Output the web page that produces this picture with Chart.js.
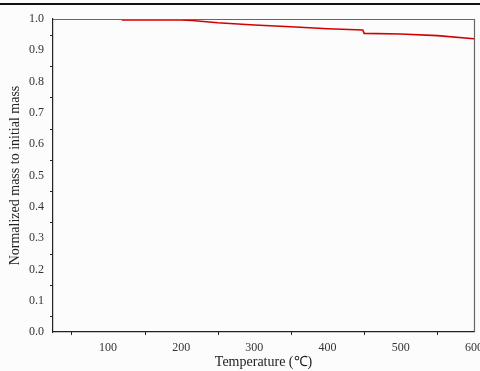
<!DOCTYPE html>
<html>
<head>
<meta charset="utf-8">
<script src="https://cdn.jsdelivr.net/npm/chart.js@4"></script>
<style>
html,body{margin:0;padding:0;background:#fcfcfc;}
#wrap{width:480px;height:371px;position:relative;}
</style>
</head>
<body>
<div id="wrap"><canvas id="c" width="480" height="371"></canvas></div>
<script>
const temperatures = [25, 118, 120, 200, 215, 250, 300, 350, 400, 448, 450, 500, 550, 600];
const normalizedMass = [1.0, 1.0, 0.997, 0.997, 0.995, 0.988, 0.981, 0.975, 0.969, 0.965, 0.954, 0.952, 0.947, 0.937];
const xTickValues = [100, 200, 300, 400, 500, 600];
const yTickValues = [0, 0.1, 0.2, 0.3, 0.4, 0.5, 0.6, 0.7, 0.8, 0.9, 1.0];
const xTitle = 'Temperature (\u2103)';
const yTitle = 'Normalized mass to initial mass';

const points = temperatures.map((t, i) => ({x: t, y: normalizedMass[i]}));

const framePlugin = {
  id: 'frame',
  beforeDraw(chart) {
    const ctx = chart.ctx;
    ctx.save();
    ctx.fillStyle = '#111';
    ctx.fillRect(0, 3, chart.width, 2);
    ctx.restore();
  },
  afterDraw(chart) {
    const ctx = chart.ctx, a = chart.chartArea;
    const xs = chart.scales.x, ys = chart.scales.y;
    ctx.save();
    ctx.strokeStyle = '#666';
    ctx.lineWidth = 1.2;
    ctx.beginPath();
    ctx.moveTo(a.left, a.top + 0.5);
    ctx.lineTo(a.right + 0.5, a.top + 0.5);
    ctx.lineTo(a.right + 0.5, a.bottom);
    ctx.stroke();
    ctx.strokeStyle = '#222';
    ctx.lineWidth = 1;
    ctx.beginPath();
    for (let v = 50; v < 600; v += 100) {
      const px = Math.round(xs.getPixelForValue(v)) + 0.5;
      ctx.moveTo(px, a.bottom);
      ctx.lineTo(px, a.bottom + 3);
    }
    for (let v = 0.05; v < 1; v += 0.1) {
      const py = Math.round(ys.getPixelForValue(v)) + 0.5;
      ctx.moveTo(a.left, py);
      ctx.lineTo(a.left - 3, py);
    }
    ctx.stroke();
    ctx.restore();
  }
};

new Chart(document.getElementById('c'), {
  type: 'line',
  data: {
    datasets: [{
      data: points,
      borderColor: '#d40000',
      borderWidth: 1.6,
      pointRadius: 0,
      tension: 0,
      fill: false
    }]
  },
  plugins: [framePlugin],
  options: {
    responsive: false,
    animation: false,
    layout: {padding: {top: 19, right: 6, left: 0, bottom: 0}},
    plugins: {legend: {display: false}, tooltip: {enabled: false}},
    scales: {
      x: {
        type: 'linear',
        min: 25, max: 600,
        afterBuildTicks(s) { s.ticks = xTickValues.map(v => ({value: v})); },
        afterFit(s) { s.height = 39; s.paddingRight = 0; s.paddingLeft = 0; },
        grid: {display: false, drawOnChartArea: false, drawTicks: true, tickLength: 5, tickColor: '#222'},
        border: {display: true, color: '#222', width: 1.2},
        ticks: {color: '#333', font: {family: 'Liberation Serif', size: 12}, padding: 4, maxRotation: 0,
                callback: v => String(v)},
        title: {display: true, text: xTitle, color: '#222', font: {family: 'Liberation Serif', size: 14}, padding: {top: 0, bottom: 0}}
      },
      y: {
        type: 'linear',
        min: 0, max: 1,
        afterBuildTicks(s) { s.ticks = yTickValues.map(v => ({value: v})); },
        afterFit(s) { s.width = 53; s.paddingTop = 0; s.paddingBottom = 0; },
        grid: {display: false, drawOnChartArea: false, drawTicks: true, tickLength: 5, tickColor: '#222'},
        border: {display: true, color: '#222', width: 1.2},
        ticks: {color: '#333', font: {family: 'Liberation Serif', size: 12}, padding: 4,
                callback: v => Number(v).toFixed(1)},
        title: {display: true, text: yTitle, color: '#222', font: {family: 'Liberation Serif', size: 14}, padding: {top: 7, bottom: 0}}
      }
    }
  }
});
</script>
</body>
</html>
